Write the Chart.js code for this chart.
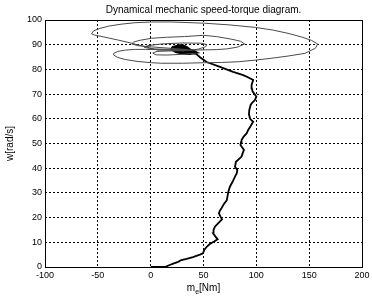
<!DOCTYPE html>
<html>
<head>
<meta charset="utf-8">
<script src="https://cdn.jsdelivr.net/npm/chart.js@4.4.1/dist/chart.umd.min.js"></script>
<style>
  html, body { margin: 0; padding: 0; background: #fff; }
  #wrap { width: 372px; height: 300px; }
</style>
</head>
<body>
<div id="wrap"><canvas id="chart"></canvas></div>
<script>
// Start-up trajectory (torque m_e [Nm], speed w [rad/s])
const runTorque = [0, 13.5, 18, 22, 26, 29, 34, 40, 46.6, 49.5, 50.7, 53, 56, 60, 63.4, 61, 59.2, 59.5, 60.8, 64,
    67.5, 66, 64.6, 65.5, 67, 69.3, 72, 72.8, 73.5, 75, 77.5, 79.8, 81.5, 82, 79.8, 80.7, 83, 86, 87, 88.3,
    86.5, 85, 85.5, 86, 88, 90.8, 92.3, 94.5, 97, 94.5, 94, 93, 93.3, 94.6, 96, 98.7, 100, 98, 96.5, 95.8,
    95.5, 97, 92, 87.6, 78, 65.6, 53, 47, 43];
const runSpeed = [0, 0, 0.8, 1.5, 2.1, 2.8, 3.3, 4.0, 5.0, 5.5, 6.9, 8.2, 9.3, 10.3, 11.2, 12.5, 13.6, 15, 16.3, 17.8,
    19.3, 20.5, 21.7, 22.8, 23.8, 25.5, 27, 28.8, 30.5, 32.5, 34.5, 36.6, 38, 39.3, 40.6, 42.6, 43.5, 44.7, 46, 47.4,
    48.5, 49.4, 50.5, 51.4, 52.8, 54.1, 55.5, 57, 58.8, 59.8, 60.2, 61.8, 63.5, 65.6, 66.5, 67.6, 69, 70.2, 71, 72.3,
    73.7, 75.7, 76.8, 77.7, 79, 81, 83, 84.8, 86.3];

// Oscillation loops around the operating point
const loopTorque = [43, 38, 30, 15, 5, 2, 6, 20, 35,
    45, 52, 53, 48, 30, 10, -3, -6, 2, 20, 38,
    50, 62, 72, 82, 89, 85, 77, 62, 50, 32, 15, 1, -10, -16, -18, -12, 1, 20, 35,
    20, 7, -5.4, -18, -31, -45, -53, -56, -54, -48, -40, -28, -15, 1, 20, 51, 75, 99, 116, 130, 143, 152, 158,
    156, 150, 146, 130, 114, 98, 83, 67, 51, 30, 10, 1, -12, -24, -31, -35, -35, -31, -24, -15, -5, 8, 20, 32];
const loopSpeed = [86.3, 86.4, 86.1, 85.8, 85.9, 86.6, 87.3, 87.5, 87.6,
    88.2, 89.2, 90, 90.6, 90.7, 90.3, 89.6, 88.9, 88.3, 88.1, 87.8,
    87.9, 88, 88.3, 89, 90.3, 91.4, 92.2, 93.3, 93.8, 93.3, 93, 92.6, 91.8, 91.1, 90.3, 89.6, 89.1, 88.5, 88,
    87.8, 87.8, 89.2, 90.6, 91.9, 93.2, 93.9, 94.4, 95.6, 96.6, 97.5, 98.3, 98.9, 99.2, 99.2, 98.7, 98, 97, 95.9, 94.6, 93.1, 91.8, 90.3,
    88.6, 87.3, 86.5, 85.4, 84.5, 83.7, 83.1, 82.8, 82.7, 82.5, 82.5, 82.7, 83.2, 84, 84.8, 85.8, 86.5, 87.3, 87.8, 88.1, 88.1, 88, 87.8, 87.5];

// Dense settled region (drawn heavy)
const knotTorque = [43, 38, 34, 30, 26, 21, 20, 24, 30, 37, 42, 36, 31, 26, 23, 28, 35, 40, 44];
const knotSpeed = [86.3, 87.6, 88.9, 89.7, 89.5, 88.9, 88.2, 87.2, 86.6, 86.4, 86.8, 87.8, 88.7, 88.9, 88.1, 87.4, 87.3, 87.5, 86.5];

const xTicks = [-100, -50, 0, 50, 100, 150, 200];
const yTicks = [0, 10, 20, 30, 40, 50, 60, 70, 80, 90, 100];

const FONT = "'Liberation Sans', Arial, sans-serif";

function pts(xs, ys) {
    return xs.map((x, i) => ({ x: x, y: ys[i] }));
}

const textPlugin = {
    id: 'matlabText',
    afterDraw(chart) {
        const { ctx, chartArea: a } = chart;
        ctx.save();
        // box
        ctx.strokeStyle = '#000';
        ctx.lineWidth = 1;
        ctx.setLineDash([]);
        ctx.strokeRect(Math.round(a.left) + 0.5, Math.round(a.top) + 0.5,
            Math.round(a.right - a.left), Math.round(a.bottom - a.top));

        const cx = (a.left + a.right) / 2;
        ctx.fillStyle = '#000';
        ctx.textBaseline = 'middle';

        // title
        ctx.font = '10px ' + FONT;
        ctx.textAlign = 'center';
        ctx.fillText('Dynamical mechanic speed-torque diagram.', cx, 10);

        // x label with subscript
        const big = '10px ' + FONT, small = '7px ' + FONT;
        ctx.font = big;
        const wm = ctx.measureText('m').width, wn = ctx.measureText('[Nm]').width;
        ctx.font = small;
        const we = ctx.measureText('e').width;
        let x0 = cx - (wm + we + wn) / 2;
        ctx.textAlign = 'left';
        ctx.font = big;
        ctx.fillText('m', x0, 288);
        ctx.font = small;
        ctx.fillText('e', x0 + wm, 292);
        ctx.font = big;
        ctx.fillText('[Nm]', x0 + wm + we, 288);

        // y label
        ctx.translate(10, (a.top + a.bottom) / 2);
        ctx.rotate(-Math.PI / 2);
        ctx.textAlign = 'center';
        ctx.fillText('w[rad/s]', 0, 0);
        ctx.restore();
    }
};

new Chart(document.getElementById('chart'), {
    type: 'scatter',
    data: {
        datasets: [
            {
                data: pts(loopTorque, loopSpeed),
                showLine: true, borderColor: '#4a4a4a', borderWidth: 1,
                pointRadius: 0, clip: false
            },
            {
                data: pts(runTorque, runSpeed),
                showLine: true, borderColor: '#000', borderWidth: 1.8,
                pointRadius: 0, clip: false
            },
            {
                data: pts(knotTorque, knotSpeed),
                showLine: true, borderColor: '#000', borderWidth: 3,
                pointRadius: 0, clip: false
            }
        ]
    },
    options: {
        responsive: true,
        maintainAspectRatio: false,
        animation: false,
        layout: { padding: { top: 20, right: 10, left: 0, bottom: 0 } },
        plugins: { legend: { display: false }, tooltip: { enabled: false }, title: { display: false } },
        scales: {
            x: {
                type: 'linear', min: -100, max: 200,
                afterBuildTicks: s => { s.ticks = xTicks.map(v => ({ value: v })); },
                afterFit: s => { s.height = 33; s.paddingLeft = 0; s.paddingRight = 0; },
                grid: { color: '#000', lineWidth: 1, drawTicks: false },
                border: { display: false, dash: [2, 2] },
                ticks: { color: '#000', font: { family: FONT, size: 9 }, padding: 3, maxRotation: 0 }
            },
            y: {
                type: 'linear', min: 0, max: 100,
                afterBuildTicks: s => { s.ticks = yTicks.map(v => ({ value: v })); },
                afterFit: s => { s.width = 45; s.paddingTop = 0; s.paddingBottom = 0; },
                grid: { color: '#000', lineWidth: 1, drawTicks: false },
                border: { display: false, dash: [2, 2] },
                ticks: { color: '#000', font: { family: FONT, size: 9 }, padding: 3 }
            }
        }
    },
    plugins: [textPlugin]
});
</script>
</body>
</html>
